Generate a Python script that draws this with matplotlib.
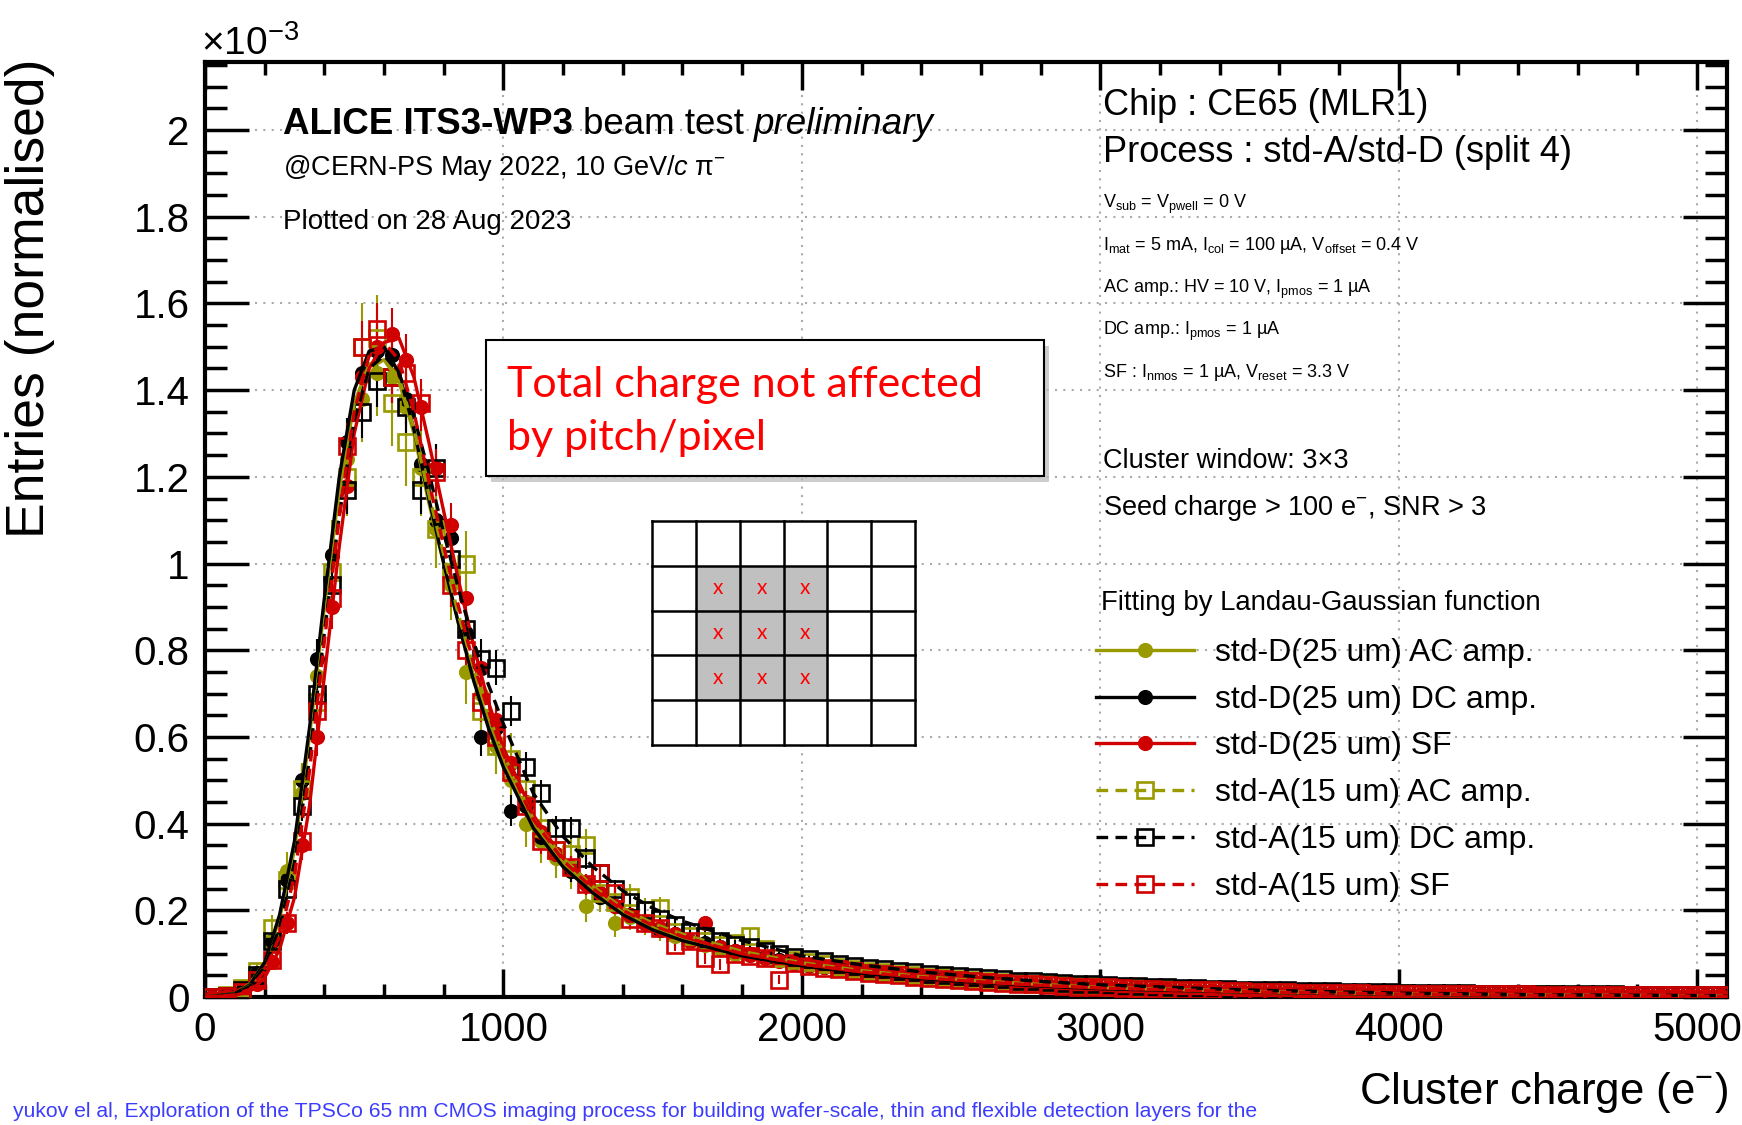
import numpy as np
import matplotlib
matplotlib.use("Agg")
import matplotlib.pyplot as plt
from matplotlib.patches import Rectangle
from matplotlib.ticker import MultipleLocator, FuncFormatter

plt.rcParams["font.family"] = ["Liberation Sans", "DejaVu Sans"]
plt.rcParams["mathtext.fontset"] = "custom"
plt.rcParams["mathtext.rm"] = "Liberation Sans"
plt.rcParams["mathtext.it"] = "Liberation Sans:italic"
plt.rcParams["mathtext.bf"] = "Liberation Sans:bold"

# ---- data (entries in units of 1e-3) ----
BIN_CENTERS = np.arange(25, 5100, 50)   # 50 e- bins

D_AC = [0.0, 0.003, 0.015, 0.05, 0.12, 0.29, 0.47, 0.74, 1.02, 1.24,
        1.38, 1.44, 1.43, 1.36, 1.22, 1.08, 0.95, 0.75, 0.70, 0.58,
        0.50, 0.40, 0.36, 0.32, 0.29, 0.21, 0.23, 0.17, 0.185, 0.17,
        0.155, 0.14, 0.13, 0.12, 0.11, 0.10, 0.098, 0.09, 0.085, 0.078,
        0.072, 0.07, 0.064, 0.06, 0.056, 0.057, 0.05, 0.048, 0.044, 0.042,
        0.04, 0.037, 0.036, 0.033, 0.03, 0.031, 0.027, 0.026, 0.024, 0.025,
        0.021, 0.02, 0.02, 0.018, 0.019, 0.016, 0.015, 0.016, 0.014, 0.013,
        0.013, 0.012, 0.012, 0.011, 0.011, 0.010, 0.011, 0.009, 0.009, 0.010,
        0.008, 0.008, 0.009, 0.007, 0.008, 0.007, 0.006, 0.007, 0.006, 0.006,
        0.007, 0.005, 0.006, 0.005, 0.006, 0.005, 0.004, 0.005, 0.005, 0.004,
        0.005, 0.004]
D_DC = [0.0, 0.004, 0.016, 0.055, 0.13, 0.27, 0.50, 0.78, 1.02, 1.28,
        1.44, 1.49, 1.48, 1.38, 1.23, 1.10, 1.06, 0.84, 0.60, 0.62,
        0.43, 0.44, 0.37, 0.33, 0.29, 0.26, 0.23, 0.21, 0.19, 0.17,
        0.155, 0.145, 0.13, 0.125, 0.115, 0.105, 0.10, 0.092, 0.086, 0.08,
        0.074, 0.07, 0.066, 0.061, 0.058, 0.054, 0.051, 0.048, 0.045, 0.043,
        0.04, 0.038, 0.035, 0.034, 0.031, 0.03, 0.028, 0.026, 0.025, 0.023,
        0.022, 0.02, 0.019, 0.018, 0.017, 0.017, 0.015, 0.014, 0.014, 0.013,
        0.012, 0.012, 0.011, 0.010, 0.010, 0.010, 0.009, 0.009, 0.008, 0.008,
        0.008, 0.007, 0.007, 0.007, 0.006, 0.006, 0.006, 0.006, 0.005, 0.005,
        0.005, 0.005, 0.004, 0.005, 0.004, 0.004, 0.004, 0.004, 0.003, 0.004,
        0.003, 0.003]
D_SF = [0.0, 0.002, 0.008, 0.03, 0.08, 0.17, 0.35, 0.60, 0.90, 1.18,
        1.43, 1.50, 1.53, 1.47, 1.36, 1.22, 1.09, 0.92, 0.76, 0.64,
        0.54, 0.45, 0.38, 0.33, 0.30, 0.26, 0.24, 0.21, 0.19, 0.17,
        0.16, 0.145, 0.13, 0.17, 0.115, 0.105, 0.098, 0.09, 0.084, 0.078,
        0.073, 0.069, 0.064, 0.06, 0.057, 0.053, 0.05, 0.047, 0.045, 0.042,
        0.04, 0.037, 0.035, 0.033, 0.031, 0.029, 0.028, 0.026, 0.024, 0.023,
        0.022, 0.021, 0.019, 0.018, 0.017, 0.016, 0.016, 0.015, 0.014, 0.013,
        0.012, 0.012, 0.011, 0.011, 0.010, 0.010, 0.009, 0.009, 0.009, 0.008,
        0.008, 0.008, 0.007, 0.007, 0.007, 0.006, 0.006, 0.006, 0.006, 0.005,
        0.006, 0.005, 0.005, 0.005, 0.005, 0.004, 0.005, 0.004, 0.004, 0.004,
        0.004, 0.004]
A_AC = [0.0, 0.004, 0.02, 0.06, 0.16, 0.27, 0.48, 0.68, 0.98, 1.20,
        1.50, 1.52, 1.37, 1.28, 1.20, 1.08, 0.98, 1.00, 0.66, 0.58,
        0.55, 0.48, 0.39, 0.34, 0.33, 0.35, 0.24, 0.22, 0.23, 0.20,
        0.205, 0.15, 0.14, 0.13, 0.12, 0.125, 0.14, 0.11, 0.09, 0.085,
        0.08, 0.075, 0.07, 0.065, 0.06, 0.058, 0.054, 0.05, 0.047, 0.045,
        0.042, 0.04, 0.037, 0.035, 0.033, 0.031, 0.03, 0.028, 0.026, 0.025,
        0.023, 0.022, 0.021, 0.019, 0.018, 0.017, 0.017, 0.016, 0.015, 0.014,
        0.013, 0.013, 0.012, 0.012, 0.011, 0.011, 0.010, 0.010, 0.009, 0.009,
        0.009, 0.008, 0.008, 0.008, 0.007, 0.007, 0.007, 0.006, 0.006, 0.006,
        0.006, 0.005, 0.005, 0.005, 0.005, 0.005, 0.004, 0.004, 0.004, 0.004,
        0.004, 0.004]
A_DC = [0.0, 0.003, 0.015, 0.05, 0.13, 0.25, 0.44, 0.70, 0.95, 1.17,
        1.35, 1.42, 1.43, 1.36, 1.17, 1.22, 1.01, 0.85, 0.78, 0.76,
        0.66, 0.53, 0.47, 0.39, 0.39, 0.32, 0.285, 0.25, 0.22, 0.20,
        0.18, 0.165, 0.15, 0.14, 0.13, 0.12, 0.115, 0.105, 0.10, 0.092,
        0.087, 0.082, 0.077, 0.072, 0.068, 0.064, 0.06, 0.057, 0.054, 0.051,
        0.048, 0.045, 0.043, 0.041, 0.038, 0.036, 0.034, 0.032, 0.031, 0.029,
        0.028, 0.026, 0.025, 0.024, 0.022, 0.021, 0.02, 0.019, 0.018, 0.017,
        0.016, 0.016, 0.015, 0.014, 0.013, 0.013, 0.012, 0.012, 0.011, 0.011,
        0.010, 0.010, 0.009, 0.009, 0.009, 0.008, 0.008, 0.008, 0.007, 0.007,
        0.007, 0.006, 0.006, 0.006, 0.006, 0.005, 0.005, 0.005, 0.005, 0.005,
        0.004, 0.004]
A_SF = [0.0, 0.003, 0.012, 0.04, 0.085, 0.17, 0.36, 0.66, 0.92, 1.27,
        1.50, 1.54, 1.43, 1.44, 1.37, 1.21, 0.95, 0.80, 0.68, 0.60,
        0.52, 0.44, 0.36, 0.34, 0.30, 0.26, 0.285, 0.24, 0.18, 0.17,
        0.16, 0.12, 0.13, 0.09, 0.075, 0.10, 0.095, 0.09, 0.04, 0.078,
        0.072, 0.068, 0.064, 0.06, 0.056, 0.053, 0.05, 0.047, 0.044, 0.042,
        0.039, 0.037, 0.035, 0.033, 0.031, 0.029, 0.027, 0.026, 0.024, 0.023,
        0.022, 0.02, 0.019, 0.018, 0.017, 0.016, 0.015, 0.015, 0.014, 0.013,
        0.012, 0.012, 0.011, 0.010, 0.010, 0.010, 0.009, 0.009, 0.008, 0.008,
        0.008, 0.007, 0.007, 0.007, 0.007, 0.006, 0.006, 0.006, 0.006, 0.005,
        0.005, 0.005, 0.005, 0.005, 0.005, 0.004, 0.004, 0.004, 0.004, 0.004,
        0.004, 0.004]

# statistical errors (DC / SF runs, AC runs)
ERR = [0.0, 0.002, 0.005, 0.01, 0.018, 0.025, 0.035, 0.045, 0.05, 0.055,
       0.06, 0.06, 0.06, 0.06, 0.055, 0.055, 0.05, 0.045, 0.045, 0.04,
       0.035, 0.035, 0.03, 0.028, 0.025, 0.024, 0.022, 0.02, 0.019, 0.018,
       0.016, 0.015, 0.014, 0.013, 0.012, 0.012, 0.011, 0.01, 0.01, 0.009,
       0.009, 0.009, 0.008, 0.008, 0.008, 0.007, 0.007, 0.007, 0.007, 0.006,
       0.006, 0.006, 0.006, 0.005, 0.005, 0.005, 0.005, 0.005, 0.005, 0.004,
       0.004, 0.004, 0.004, 0.004, 0.004, 0.004, 0.004, 0.003, 0.003, 0.003,
       0.003, 0.003, 0.003, 0.003, 0.003, 0.003, 0.003, 0.003, 0.003, 0.003,
       0.003, 0.003, 0.003, 0.002, 0.002, 0.002, 0.002, 0.002, 0.002, 0.002,
       0.002, 0.002, 0.002, 0.002, 0.002, 0.002, 0.002, 0.002, 0.002, 0.002,
       0.002, 0.002]
ERR_AC = [0.0, 0.003, 0.008, 0.015, 0.03, 0.045, 0.06, 0.07, 0.08, 0.09,
          0.1, 0.1, 0.1, 0.1, 0.09, 0.09, 0.08, 0.075, 0.07, 0.065,
          0.06, 0.055, 0.05, 0.045, 0.04, 0.038, 0.035, 0.032, 0.03, 0.028,
          0.026, 0.024, 0.022, 0.02, 0.019, 0.018, 0.017, 0.016, 0.015, 0.014,
          0.013, 0.013, 0.012, 0.012, 0.011, 0.011, 0.01, 0.01, 0.01, 0.009,
          0.009, 0.009, 0.008, 0.008, 0.008, 0.007, 0.007, 0.007, 0.007, 0.006,
          0.006, 0.006, 0.006, 0.006, 0.005, 0.005, 0.005, 0.005, 0.005, 0.005,
          0.004, 0.004, 0.004, 0.004, 0.004, 0.004, 0.004, 0.004, 0.004, 0.004,
          0.003, 0.003, 0.003, 0.003, 0.003, 0.003, 0.003, 0.003, 0.003, 0.003,
          0.003, 0.003, 0.003, 0.003, 0.003, 0.003, 0.003, 0.003, 0.003, 0.003,
          0.003, 0.003]

# Landau-Gauss fit curves
FIT_X = [0, 100, 150, 200, 250, 300, 350, 400, 450, 500,
         550, 600, 650, 700, 750, 800, 850, 900, 950, 1000,
         1100, 1200, 1300, 1400, 1500, 1600, 1800, 2000,
         2200, 2400, 2600, 2800, 3000, 3500, 4000, 4500, 5100]
FIT_D_AC = [0, 0.008, 0.03, 0.08, 0.18, 0.34, 0.60, 0.90, 1.17, 1.37,
            1.46, 1.47, 1.42, 1.30, 1.14, 1.00, 0.86, 0.74, 0.63, 0.54,
            0.40, 0.31, 0.245, 0.195, 0.16, 0.135, 0.10, 0.075,
            0.057, 0.044, 0.034, 0.026, 0.020, 0.011, 0.006, 0.0035, 0.002]
FIT_D_DC = [0, 0.008, 0.028, 0.08, 0.19, 0.36, 0.62, 0.92, 1.20, 1.40,
            1.49, 1.50, 1.44, 1.31, 1.15, 1.00, 0.86, 0.73, 0.62, 0.53,
            0.39, 0.30, 0.24, 0.19, 0.155, 0.13, 0.095, 0.072,
            0.055, 0.042, 0.033, 0.025, 0.019, 0.011, 0.006, 0.0035, 0.002]
FIT_D_SF = [0, 0.004, 0.012, 0.045, 0.11, 0.23, 0.44, 0.74, 1.04, 1.30,
            1.45, 1.51, 1.52, 1.43, 1.28, 1.12, 0.96, 0.81, 0.68, 0.575,
            0.42, 0.32, 0.255, 0.205, 0.17, 0.14, 0.10, 0.076,
            0.058, 0.045, 0.035, 0.027, 0.021, 0.012, 0.007, 0.004, 0.002]
FIT_A_AC = [0, 0.007, 0.025, 0.07, 0.16, 0.31, 0.56, 0.86, 1.13, 1.34,
            1.45, 1.47, 1.43, 1.31, 1.16, 1.02, 0.88, 0.76, 0.65, 0.56,
            0.41, 0.32, 0.255, 0.205, 0.17, 0.145, 0.105, 0.079,
            0.061, 0.047, 0.037, 0.029, 0.022, 0.013, 0.0075, 0.0045, 0.0025]
FIT_A_DC = [0, 0.007, 0.024, 0.07, 0.16, 0.31, 0.55, 0.84, 1.11, 1.33,
            1.45, 1.48, 1.44, 1.34, 1.21, 1.07, 0.94, 0.82, 0.72, 0.63,
            0.47, 0.37, 0.30, 0.245, 0.205, 0.175, 0.13, 0.095,
            0.074, 0.058, 0.046, 0.036, 0.028, 0.016, 0.009, 0.005, 0.003]
FIT_A_SF = [0, 0.005, 0.018, 0.06, 0.14, 0.28, 0.52, 0.82, 1.11, 1.35,
            1.48, 1.51, 1.47, 1.35, 1.19, 1.04, 0.90, 0.77, 0.66, 0.56,
            0.41, 0.315, 0.25, 0.20, 0.165, 0.14, 0.10, 0.076,
            0.058, 0.045, 0.035, 0.027, 0.021, 0.012, 0.007, 0.004, 0.002]

LABELS = ["std-D(25 um) AC amp.", "std-D(25 um) DC amp.", "std-D(25 um) SF",
          "std-A(15 um) AC amp.", "std-A(15 um) DC amp.", "std-A(15 um) SF"]

# ---- style ----
OLIVE = "#999900"
RED = "#d00000"
DASH = (0, (3.5, 2.2))
SERIES = [
    (D_AC, ERR_AC, FIT_D_AC, OLIVE, "o", "-"),
    (D_DC, ERR, FIT_D_DC, "black", "o", "-"),
    (D_SF, ERR, FIT_D_SF, RED, "o", "-"),
    (A_AC, ERR_AC, FIT_A_AC, OLIVE, "s", DASH),
    (A_DC, ERR, FIT_A_DC, "black", "s", DASH),
    (A_SF, ERR, FIT_A_SF, RED, "s", DASH),
]

W, H = 1742, 1125
fig = plt.figure(figsize=(W / 100, H / 100), dpi=100)
ax = fig.add_axes([205 / W, 1 - 997 / H, 1522 / W, 935 / H])

for data, err, fit, col, mk, ls in SERIES:
    filled = mk == "o"
    ax.errorbar(BIN_CENTERS, data, yerr=err, fmt=mk, color=col,
                mfc=col if filled else "none", mec=col,
                ms=9 if filled else 11.5, mew=1.9, elinewidth=1.5,
                capsize=0, zorder=3)
    ax.plot(FIT_X, fit, color=col, lw=2.4, ls=ls, zorder=4)

ax.set_xlim(0, 5100)
ax.set_ylim(0, 2.157)
ax.xaxis.set_major_locator(MultipleLocator(1000))
ax.xaxis.set_minor_locator(MultipleLocator(200))
ax.yaxis.set_major_locator(MultipleLocator(0.2))
ax.yaxis.set_minor_locator(MultipleLocator(0.05))
ax.yaxis.set_major_formatter(FuncFormatter(lambda v, p: f"{v:g}"))
ax.tick_params(which="both", direction="in", top=True, right=True,
               width=2.5, labelsize=29)
ax.tick_params(axis="y", which="major", length=32, pad=11)
ax.tick_params(axis="y", which="minor", length=16)
ax.tick_params(axis="x", which="major", length=20, pad=10)
ax.tick_params(axis="x", which="minor", length=9.5)
for s in ax.spines.values():
    s.set_linewidth(3)
ax.grid(True, which="major", linestyle=(0, (1, 3)), color="#aaaaaa", lw=1.5)
ax.set_axisbelow(True)

# ---- overlay in pixel coordinates for texts / legend / inset ----
ov = fig.add_axes([0, 0, 1, 1], zorder=5)
ov.set_xlim(0, W)
ov.set_ylim(H, 0)
ov.axis("off")
ov.patch.set_visible(False)

ov.text(201, 55, "×10$^{-3}$", size=28)
ov.text(30, 58, "Entries (normalised)", size=38.5, rotation=90,
        ha="center", va="top")
ov.text(1728, 1104, "Cluster charge (e$^{-}$)", size=31.5, ha="right")

# header
fig.canvas.draw()
r = fig.canvas.get_renderer()
t = ov.text(283, 134, "ALICE ITS3-WP3", size=26.5, weight="bold")
x1 = t.get_window_extent(r).x1
t = ov.text(x1 + 10, 134, "beam test", size=26.5)
x1 = t.get_window_extent(r).x1
ov.text(x1 + 10, 134, "preliminary", size=26.5, style="italic")
ov.text(283, 175, "@CERN-PS May 2022, 10 GeV/$c$ π$^{-}$", size=19.5)
ov.text(283, 229, "Plotted on 28 Aug 2023", size=20)

ov.text(1103, 115, "Chip : CE65 (MLR1)", size=26)
ov.text(1103, 162, "Process : std-A/std-D (split 4)", size=26)
small = [
    "V$_{\\rm sub}$ = V$_{\\rm pwell}$ = 0 V",
    "I$_{\\rm mat}$ = 5 mA, I$_{\\rm col}$ = 100 µA, V$_{\\rm offset}$ = 0.4 V",
    "AC amp.: HV = 10 V, I$_{\\rm pmos}$ = 1 µA",
    "DC amp.: I$_{\\rm pmos}$ = 1 µA",
    "SF : I$_{\\rm nmos}$ = 1 µA, V$_{\\rm reset}$ = 3.3 V",
]
for i, s in enumerate(small):
    ov.text(1103, 208 + i * 42.3, s, size=13)
ov.text(1103, 468, "Cluster window: 3×3", size=19.5)
ov.text(1103, 515, "Seed charge > 100 e$^{-}$, SNR > 3", size=19.5)
ov.text(1101, 610, "Fitting by Landau-Gaussian function", size=19.8)

# legend
for i, (lab, (_, _, _, col, mk, ls)) in enumerate(zip(LABELS, SERIES)):
    y = 650 + i * 46.7
    ov.plot([1096, 1194], [y, y], color=col, lw=2.4, ls=ls)
    filled = mk == "o"
    ov.plot([1145], [y], mk, color=col, mfc=col if filled else "none",
            mec=col, ms=9 if filled else 11.5, mew=1.9)
    ov.text(1215, y + 11, lab, size=23)

# annotation box
ov.add_patch(Rectangle((491, 346), 558, 136, fc="#b8b8b8", ec="none", alpha=0.7))
ov.add_patch(Rectangle((486, 340), 558, 136, fc="white", ec="black", lw=1.5))
ov.text(507, 397, "Total charge not affected", color="#ff0000", size=31,
        family=["Lato", "DejaVu Sans"])
ov.text(507, 450, "by pitch/pixel", color="#ff0000", size=31,
        family=["Lato", "DejaVu Sans"])

# 3x3 cluster sketch
GRID_COLS, GRID_ROWS = 6, 5
SEL_COLS, SEL_ROWS = [1, 2, 3], [1, 2, 3]
gx0, gy0, gw, gh = 652, 521, 263, 224
cw, ch = gw / GRID_COLS, gh / GRID_ROWS
ov.add_patch(Rectangle((gx0, gy0), gw, gh, fc="white", ec="none"))
for rr in SEL_ROWS:
    for cc in SEL_COLS:
        ov.add_patch(Rectangle((gx0 + cc * cw, gy0 + rr * ch), cw, ch,
                               fc="#c0c0c0", ec="none"))
        ov.text(gx0 + (cc + 0.5) * cw, gy0 + (rr + 0.5) * ch, "x",
                color="#ff0000", size=15, ha="center", va="center",
                family=["Lato", "DejaVu Sans"])
for cc in range(GRID_COLS + 1):
    ov.plot([gx0 + cc * cw] * 2, [gy0, gy0 + gh], color="black", lw=1.8,
            solid_capstyle="projecting")
for rr in range(GRID_ROWS + 1):
    ov.plot([gx0, gx0 + gw], [gy0 + rr * ch] * 2, color="black", lw=1.8,
            solid_capstyle="projecting")

ov.text(1257, 1117,
        "yukov el al, Exploration of the TPSCo 65 nm CMOS imaging process for "
        "building wafer-scale, thin and flexible detection layers for the",
        color="#3c3cff", size=15.2, ha="right")

fig.savefig("out.png", dpi=100)
